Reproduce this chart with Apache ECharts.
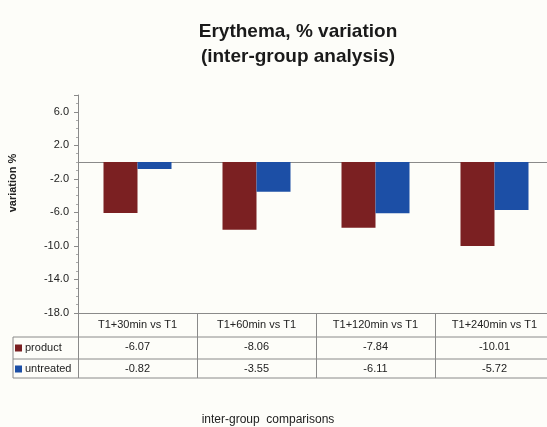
<!DOCTYPE html>
<html>
<head>
<meta charset="utf-8">
<script src="https://cdn.jsdelivr.net/npm/echarts@6/dist/echarts.min.js"></script>
<style>
  html, body { margin: 0; padding: 0; background: #fdfdf9; }
  #main { width: 547px; height: 427px; }
</style>
</head>
<body>
<div id="main"></div>
<script>
// data
const categories = ['T1+30min vs T1', 'T1+60min vs T1', 'T1+120min vs T1', 'T1+240min vs T1'];
const product = [-6.07, -8.06, -7.84, -10.01];
const untreated = [-0.82, -3.55, -6.11, -5.72];
const yTicks = { min: -18, max: 8, interval: 4 };

var chartDom = document.getElementById('main');
var myChart = echarts.init(chartDom);
var option;

// plot area (runs a bit past the right edge, like the scan)
const G = { left: 78, top: 95, width: 476, height: 218, outerBoundsMode: 'none' };
const bottom = G.top + G.height;
const rowY = [bottom + 24, bottom + 46, bottom + 65];
const lineColor = '#8a8a8a';
const font = 'Liberation Sans, Arial, sans-serif';

let tableLines = rowY.map(function (y) {
    return {
        type: 'line',
        shape: { x1: 13, y1: y, x2: 547, y2: y },
        style: { stroke: lineColor, lineWidth: 1 }
    };
});
tableLines.push({
    type: 'line',
    shape: { x1: 13, y1: rowY[0], x2: 13, y2: rowY[2] },
    style: { stroke: lineColor, lineWidth: 1 }
});

option = {
    backgroundColor: '#fdfdf9',
    textStyle: { fontFamily: font },
    title: {
        text: 'Erythema, % variation\n(inter-group analysis)',
        left: 293,
        top: 14,
        textAlign: 'center',
        textStyle: {
            fontFamily: font,
            fontSize: 19,
            fontWeight: 'bold',
            lineHeight: 25,
            color: '#1a1a1a'
        }
    },
    legend: {
        orient: 'vertical',
        left: 15,
        top: rowY[0] + 4,
        padding: 0,
        itemWidth: 7,
        itemHeight: 7,
        itemGap: 7,
        icon: 'rect',
        textStyle: { fontSize: 11, color: '#222', lineHeight: 14, padding: [0, 0, 0, -2] },
        data: ['product', 'untreated']
    },
    grid: G,
    xAxis: [
        {
            // zero line
            type: 'category',
            data: categories,
            axisLine: { onZero: true, lineStyle: { color: lineColor, width: 1 } },
            axisTick: { show: false },
            axisLabel: { show: false }
        },
        {
            // table under the plot
            type: 'category',
            data: categories,
            position: 'bottom',
            axisLine: { onZero: false, lineStyle: { color: lineColor, width: 1 } },
            axisTick: { show: true, length: 65, lineStyle: { color: lineColor } },
            axisLabel: {
                margin: 1,
                fontSize: 11,
                color: '#222',
                lineHeight: 22,
                formatter: function (v, i) {
                    return v + '\n' + product[i].toFixed(2) + '\n' + untreated[i].toFixed(2);
                }
            },
            name: 'inter-group  comparisons',
            nameLocation: 'middle',
            nameGap: 101,
            nameTextStyle: { fontSize: 12, color: '#222', padding: [0, 96, 0, 0] }
        }
    ],
    yAxis: {
        type: 'value',
        min: yTicks.min,
        max: yTicks.max,
        interval: yTicks.interval,
        name: 'variation %',
        nameLocation: 'middle',
        nameGap: 60,
        nameTextStyle: { fontSize: 11, fontWeight: 'bold', color: '#222', padding: [0, 0, 0, 42] },
        axisLine: { show: true, lineStyle: { color: lineColor } },
        axisTick: { show: true, length: 4, lineStyle: { color: lineColor } },
        minorTick: { show: true, splitNumber: 4, length: 2, lineStyle: { color: '#aaa' } },
        splitLine: { show: false },
        axisLabel: {
            showMaxLabel: false,
            fontSize: 11,
            color: '#222',
            margin: 9,
            formatter: function (v) { return v.toFixed(1); }
        }
    },
    series: [
        {
            name: 'product',
            type: 'bar',
            xAxisIndex: 0,
            barWidth: 34,
            barGap: '0%',
            itemStyle: { color: '#7b2022' },
            data: product
        },
        {
            name: 'untreated',
            type: 'bar',
            xAxisIndex: 0,
            barWidth: 34,
            itemStyle: { color: '#1c4fa6' },
            data: untreated
        }
    ],
    graphic: tableLines
};

option && myChart.setOption(option);
</script>
</body>
</html>
